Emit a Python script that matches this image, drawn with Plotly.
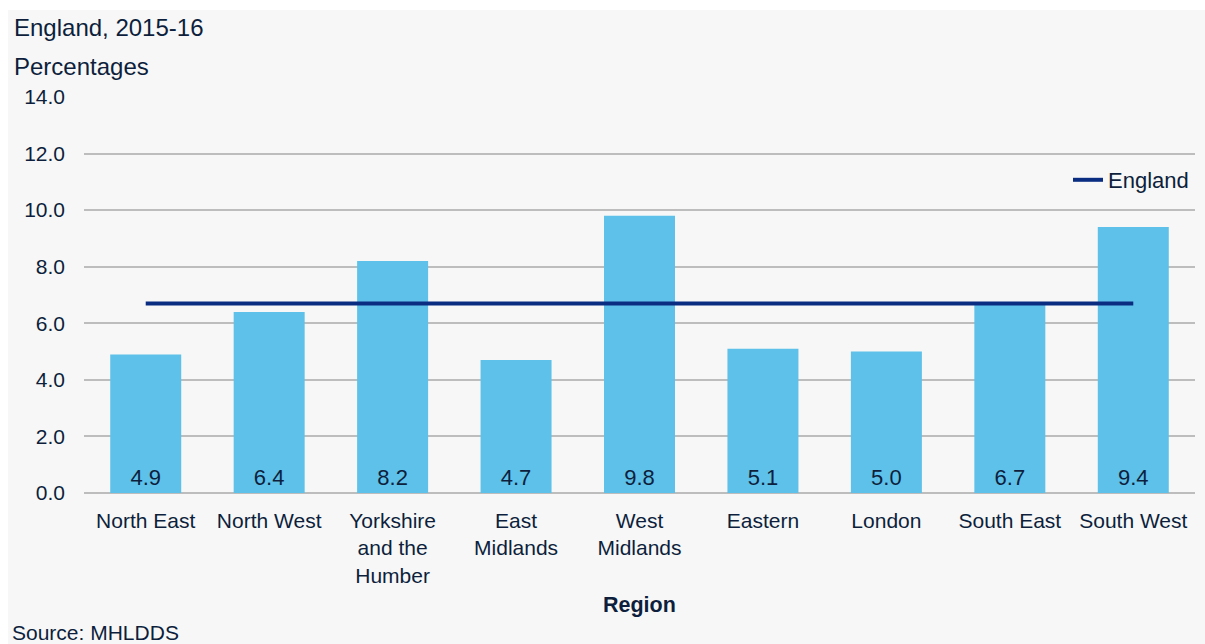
import plotly.graph_objects as go

regions = ["North East", "North West", "Yorkshire<br>and the<br>Humber", "East<br>Midlands",
           "West<br>Midlands", "Eastern", "London", "South East", "South West"]
values = [4.9, 6.4, 8.2, 4.7, 9.8, 5.1, 5.0, 6.7, 9.4]
england_value = 6.7
y_ticks = [0, 2, 4, 6, 8, 10, 12, 14]

TXT = "#0d1f3c"
FONT = "Liberation Sans, Arial, sans-serif"

W, H = 1205, 644
L, R, T, B = 84, 10, 97, 151
PW, PH = W - L - R, H - T - B


def px_x(x):
    return (x - L) / PW


def px_y(y):
    return (H - B - y) / PH


fig = go.Figure()
fig.add_trace(go.Bar(
    x=regions, y=values, marker_color="#5ec1ea", marker_line_width=0,
    width=0.575, showlegend=False,
    text=[f"{v:.1f}" for v in values], textposition="inside",
    insidetextanchor="start", textangle=0,
    textfont=dict(size=22, color=TXT, family=FONT),
))
fig.add_trace(go.Scatter(
    x=regions, y=[england_value] * len(regions), mode="lines",
    line=dict(color="#0a2d82", width=4), name="England",
))

fig.update_layout(
    width=W, height=H,
    paper_bgcolor="white", plot_bgcolor="rgba(0,0,0,0)",
    margin=dict(l=L, r=R, t=T, b=B),
    font=dict(family=FONT, size=21, color=TXT),
    showlegend=True,
    legend=dict(x=px_x(1068), xanchor="left", y=px_y(180), yanchor="middle",
                bgcolor="rgba(0,0,0,0)", font=dict(size=22, color=TXT)),
    shapes=[dict(type="rect", xref="paper", yref="paper", layer="below",
                 x0=px_x(8), x1=px_x(W), y0=px_y(H), y1=px_y(10),
                 fillcolor="#f7f7f7", line_width=0)],
    annotations=[
        dict(text="England, 2015-16", xref="paper", yref="paper", x=px_x(12), y=px_y(28),
             xanchor="left", yanchor="middle", showarrow=False, font=dict(size=24, color=TXT)),
        dict(text="Percentages", xref="paper", yref="paper", x=px_x(12), y=px_y(66),
             xanchor="left", yanchor="middle", showarrow=False, font=dict(size=24, color=TXT)),
        dict(text="<b>Region</b>", xref="paper", yref="paper", x=0.5, y=px_y(605),
             xanchor="center", yanchor="middle", showarrow=False, font=dict(size=21.5, color=TXT)),
        dict(text="Source: MHLDDS", xref="paper", yref="paper", x=px_x(10), y=px_y(632),
             xanchor="left", yanchor="middle", showarrow=False, font=dict(size=21, color=TXT)),
    ],
)
fig.update_xaxes(showgrid=False, showline=False, ticks="", ticklabelstandoff=13,
                 tickfont=dict(size=21, color=TXT))
fig.update_yaxes(range=[0, 14], tickvals=y_ticks, ticktext=[f"{t:.1f}" for t in y_ticks],
                 showgrid=True, gridcolor="#bdbdbd", gridwidth=1.5,
                 zeroline=True, zerolinecolor="#bdbdbd", zerolinewidth=1.5,
                 ticks="", ticklabelstandoff=18, tickfont=dict(size=21, color=TXT))

fig.write_html(
    "out.html",
    config={"displayModeBar": False},
    post_script="document.body.style.margin='0';document.body.style.overflow='hidden';",
)
